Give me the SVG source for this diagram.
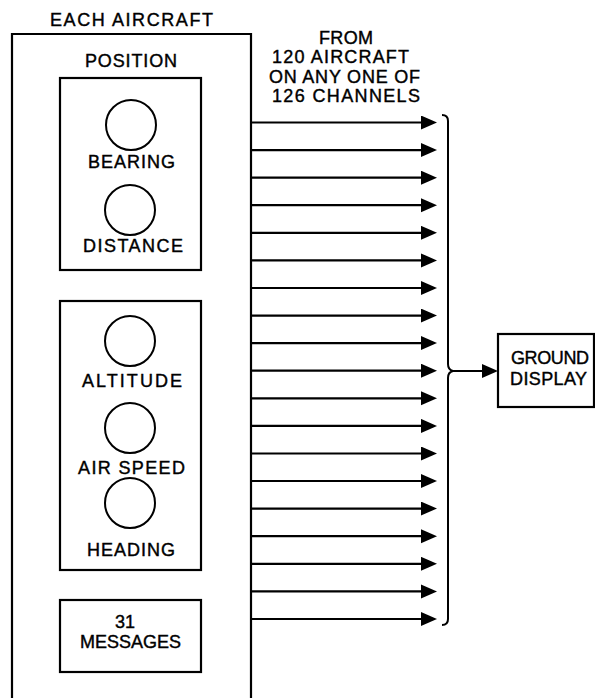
<svg xmlns="http://www.w3.org/2000/svg" width="595" height="698" viewBox="0 0 595 698">
<style>
text{font-family:"Liberation Sans",Arial,sans-serif;font-size:18px;fill:#000;stroke:#000;stroke-width:0.4}
.b{fill:none;stroke:#000;stroke-width:2.2}
.c{fill:none;stroke:#000;stroke-width:2}
.a{stroke:#000;stroke-width:2.2;fill:none;marker-end:url(#ah)}
</style>
<defs>
<marker id="ah" markerUnits="userSpaceOnUse" markerWidth="17" markerHeight="15" refX="8" refY="7" orient="auto">
<path d="M0,0 L16,7 L0,14 Z" fill="#000"/>
</marker>
</defs>
<rect width="595" height="698" fill="#fff"/>
<g id="each-aircraft">
<path class="b" d="M12,698 V34 H251 V698"/>
<text x="50" y="26" textLength="163" lengthAdjust="spacing">EACH AIRCRAFT</text>
</g>
<g id="position">
<text x="85" y="67" textLength="92" lengthAdjust="spacing">POSITION</text>
<rect class="b" x="60" y="78" width="141" height="192"/>
<circle class="c" cx="131" cy="125" r="25"/>
<text x="88" y="168" textLength="87" lengthAdjust="spacing">BEARING</text>
<circle class="c" cx="130" cy="210" r="25"/>
<text x="83" y="252" textLength="100" lengthAdjust="spacing">DISTANCE</text>
</g>
<g id="instruments">
<rect class="b" x="60" y="301" width="141" height="269"/>
<circle class="c" cx="130" cy="341" r="25"/>
<text x="82" y="387" textLength="100" lengthAdjust="spacing">ALTITUDE</text>
<circle class="c" cx="130" cy="428" r="25"/>
<text x="78" y="474" textLength="107" lengthAdjust="spacing">AIR SPEED</text>
<circle class="c" cx="130" cy="503" r="25"/>
<text x="87" y="556" textLength="88" lengthAdjust="spacing">HEADING</text>
</g>
<g id="messages">
<rect class="b" x="60" y="600" width="141" height="72"/>
<text x="125" y="628" text-anchor="middle">31</text>
<text x="80" y="648" textLength="101" lengthAdjust="spacing">MESSAGES</text>
</g>
<g id="channels-label">
<text x="319" y="44" textLength="54" lengthAdjust="spacing">FROM</text>
<text x="272" y="63" textLength="137" lengthAdjust="spacing">120 AIRCRAFT</text>
<text x="269" y="83" textLength="151" lengthAdjust="spacing">ON ANY ONE OF</text>
<text x="272" y="102" textLength="148" lengthAdjust="spacing">126 CHANNELS</text>
</g>
<g id="ground-display">
<rect class="b" x="498" y="334" width="96" height="73"/>
<text x="511" y="364" textLength="78" lengthAdjust="spacing">GROUND</text>
<text x="510" y="385" textLength="77" lengthAdjust="spacing">DISPLAY</text>
</g>
<g id="connectors">
<line class="a" x1="251" y1="122.5" x2="429" y2="122.5"/>
<line class="a" x1="251" y1="150.1" x2="429" y2="150.1"/>
<line class="a" x1="251" y1="177.7" x2="429" y2="177.7"/>
<line class="a" x1="251" y1="205.2" x2="429" y2="205.2"/>
<line class="a" x1="251" y1="232.8" x2="429" y2="232.8"/>
<line class="a" x1="251" y1="260.4" x2="429" y2="260.4"/>
<line class="a" x1="251" y1="288.0" x2="429" y2="288.0"/>
<line class="a" x1="251" y1="315.6" x2="429" y2="315.6"/>
<line class="a" x1="251" y1="343.1" x2="429" y2="343.1"/>
<line class="a" x1="251" y1="370.7" x2="429" y2="370.7"/>
<line class="a" x1="251" y1="398.3" x2="429" y2="398.3"/>
<line class="a" x1="251" y1="425.9" x2="429" y2="425.9"/>
<line class="a" x1="251" y1="453.5" x2="429" y2="453.5"/>
<line class="a" x1="251" y1="481.0" x2="429" y2="481.0"/>
<line class="a" x1="251" y1="508.6" x2="429" y2="508.6"/>
<line class="a" x1="251" y1="536.2" x2="429" y2="536.2"/>
<line class="a" x1="251" y1="563.8" x2="429" y2="563.8"/>
<line class="a" x1="251" y1="591.4" x2="429" y2="591.4"/>
<line class="a" x1="251" y1="619.0" x2="429" y2="619.0"/>
<path class="c" d="M442,115 Q448,115 448,121 V364 Q448,370 453,371 Q448,372 448,378 V619 Q448,625 442,625"/>
<line class="a" x1="453" y1="371" x2="490" y2="371"/>
</g>
</svg>
